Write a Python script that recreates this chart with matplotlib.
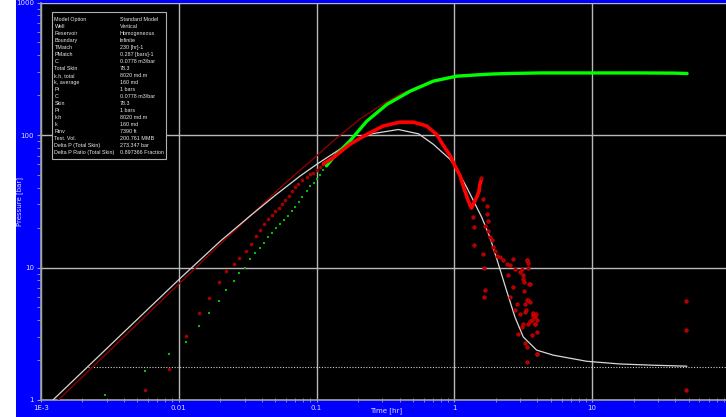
import matplotlib
matplotlib.use("Agg")
import matplotlib.pyplot as plt
from matplotlib import font_manager
from matplotlib.patches import Rectangle
from matplotlib.ticker import FixedLocator, FixedFormatter, LogLocator, NullFormatter

# ---------------- data ----------------
# pressure change data (green), sparse early points
gp_sparse_t = [0.00291, 0.00569, 0.00845, 0.01122, 0.01394, 0.01663, 0.01948, 0.02213, 0.02518, 0.02749,
               0.0302, 0.0330, 0.0358, 0.0388, 0.0417, 0.0444, 0.0474, 0.0507, 0.0542, 0.0583, 0.0620,
               0.0659, 0.0700, 0.0741, 0.0790, 0.0845, 0.0900, 0.0955, 0.100, 0.106, 0.112, 0.118, 0.125]
gp_sparse_p = [1.10, 1.65, 2.21, 2.73, 3.60, 4.51, 5.55, 6.72, 7.89, 9.06,
               9.9, 11.5, 12.8, 14.1, 15.3, 16.9, 18.3, 19.9, 21.4, 23.0, 24.6,
               26.7, 28.7, 31.0, 34.0, 37.5, 41.0, 43.8, 46.4, 50.0, 54.5, 58.5, 63.0]
# pressure change data (green), dense part
gp_dense_t = [0.118, 0.132, 0.1745, 0.231, 0.323, 0.477, 0.703, 0.85, 1.04, 1.37, 1.8, 2.39, 4.18, 10.0, 22.2, 40.0, 48.8]
gp_dense_p = [58.5, 67.5, 90.2, 127, 170, 214, 255, 266, 278, 283, 288, 291, 294, 294, 294, 293, 291]

# derivative data (red), sparse early points
dp_sparse_t = [0.00569, 0.00845, 0.01122, 0.01394, 0.01663, 0.01948, 0.02213, 0.02518, 0.02749, 0.0305,
               0.0333, 0.0362, 0.0388, 0.0415, 0.0444, 0.0472, 0.0502, 0.0531, 0.0561, 0.0593, 0.0634,
               0.0667, 0.0700, 0.0736, 0.0790, 0.0850, 0.0900, 0.0946, 0.100, 0.106, 0.112]
dp_sparse_p = [1.18, 1.71, 3.03, 4.56, 5.92, 7.76, 9.44, 10.7, 11.75, 13.3,
               15.1, 17.4, 19.2, 21.3, 23.2, 25.0, 26.5, 28.1, 30.1, 32.3, 34.8,
               37.5, 40.2, 42.6, 45.5, 48.5, 50.5, 52.1, 54.5, 57.5, 60.5]
# derivative data (red), dense part
dp_dense_t = [0.112, 0.132, 0.1745, 0.231, 0.305, 0.403, 0.503, 0.629, 0.743, 0.84, 0.93, 1.01, 1.10, 1.19, 1.26, 1.33,
              1.41, 1.466, 1.51, 1.53, 1.56]
dp_dense_p = [60.5, 67.5, 85.1, 101, 117, 125, 125, 117, 101, 82, 70, 58.5, 49.2, 37.9, 31.9, 28.1,
              31.9, 34.8, 37.9, 42.6, 45.1]
# derivative data (red), late scattered points
dp_scatter_t = [1.55, 1.358, 1.387, 1.387, 1.604, 1.733, 1.715, 1.762, 1.667, 1.762, 1.811, 1.866, 1.916, 1.622,
                1.972, 2.028, 2.143, 2.264, 2.394, 2.675, 2.531, 2.753, 3.350, 3.436, 1.648, 2.460,
                2.992, 3.162, 2.675, 3.538, 1.667, 1.648, 2.531, 2.831, 3.350, 3.538, 2.753, 2.992,
                3.252, 3.739, 3.846, 3.639, 3.436, 3.076, 2.909, 3.846, 3.954, 3.639, 3.252, 3.381,
                3.954, 3.350, 3.350, 3.436, 3.076, 3.131, 3.199, 3.491, 3.199, 3.436, 3.252, 3.311,
                3.739, 3.908, 3.698, 3.954, 3.538, 3.846, 3.162, 3.999, 47.6, 47.6, 47.6]
dp_scatter_p = [47.7, 23.9, 20.1, 14.8, 32.8, 29.3, 25.3, 22.6, 20.7, 19.0, 16.9, 16.0, 14.2, 12.7,
                13.4, 12.3, 11.9, 11.3, 10.7, 11.6, 10.4, 9.78, 11.3, 10.0, 9.95, 8.71,
                9.22, 8.22, 7.11, 7.54, 6.80, 5.98, 5.98, 5.33, 5.65, 5.48, 4.75, 4.48,
                4.61, 4.48, 4.23, 4.00, 3.77, 3.56, 3.17, 3.77, 3.26, 3.08, 2.67, 2.52,
                2.24, 1.94, 11.4, 10.8, 9.78, 8.71, 7.75, 7.45, 6.63, 5.65, 5.33, 4.75,
                4.53, 4.48, 4.28, 4.00, 3.95, 3.73, 3.77, 2.24, 5.55, 3.40, 1.20]

# model pressure (dark red line)
mp_t = [0.001335, 0.0209, 0.0573, 0.0759, 0.100, 0.1315, 0.2066, 0.300, 0.403, 0.550, 0.700, 1.01, 1.5, 2.5, 5.0, 48.8]
mp_p = [1.0, 15.7, 42.0, 54.3, 69.5, 90.0, 132, 170, 203, 233, 255, 280, 289, 293, 295, 296]

# model derivative (white line)
md_t = [0.00122, 0.010, 0.020, 0.0329, 0.050, 0.0759, 0.100, 0.1745, 0.250, 0.392, 0.550, 0.703, 0.929, 1.01, 1.23, 1.58,
        1.81, 2.08, 2.39, 2.75, 3.16, 3.95, 5.22, 9.12, 15.9, 27.8, 48.5]
md_p = [1.0, 8.1, 15.8, 24.5, 35.0, 49.0, 60.0, 87.5, 102, 110, 102, 85.1, 65.6, 58.5, 40.2, 23.9,
        16.9, 10.7, 6.7, 4.23, 2.99, 2.38, 2.18, 1.96, 1.87, 1.83, 1.80]

# dotted radial-flow level
dotted_level = 1.76
dotted_start = 0.0022

# axis ticks
x_ticks = [1e-3, 1e-2, 1e-1, 1, 10]
x_tick_labels = ["1E-3", "0.01", "0.1", "1", "10"]
y_ticks = [1, 10, 100, 1000]
y_tick_labels = ["1", "10", "100", "1000"]

# info box
info_keys = ["Model Option", "Well", "Reservoir", "Boundary", "TMatch", "PMatch", "C", "Total Skin",
             "k.h, total", "k, average", "Pi", "C", "Skin", "Pi", "k.h", "k", "Rinv", "Test. Vol.",
             "Delta P (Total Skin)", "Delta P Ratio (Total Skin)"]
info_vals = ["Standard Model", "Vertical", "Homogeneous", "Infinite", "230 [hr]-1", "0.287 [bars]-1",
             "0.0778 m3/bar", "78.3", "8020 md.m", "160 md", "1 bars", "0.0778 m3/bar", "78.3", "1 bars",
             "8020 md.m", "160 md", "7390 ft", "200.761 MMB", "273.347 bar", "0.897366 Fraction"]

# font choice for the info box
_names = {f.name for f in font_manager.fontManager.ttflist}
if "Liberation Sans Narrow" in _names:
    box_font, box_size = "Liberation Sans Narrow", 4.6
else:
    box_font, box_size = "Liberation Sans", 3.9

# ---------------- figure ----------------
W, H = 726, 417
fig = plt.figure(figsize=(W / 100, H / 100), dpi=100)
fig.patch.set_facecolor("white")
bg = Rectangle((16 / W, 0), 1 - 16 / W, 1, transform=fig.transFigure,
               facecolor="#0000ff", edgecolor="none", zorder=-10)
fig.patches.append(bg)

ax = fig.add_axes([41 / W, 17 / H, 688 / W, 397.5 / H])
ax.set_zorder(1)
ax.set_facecolor("black")
ax.set_xscale("log")
ax.set_yscale("log")
ax.set_xlim(1e-3, 10 ** (-3 + 688 / 137.8))
ax.set_ylim(1, 1000)

for s in ["top", "right"]:
    ax.spines[s].set_visible(False)
for s in ["left", "bottom"]:
    ax.spines[s].set_color("#a0a0a0")
    ax.spines[s].set_linewidth(1.2)

ax.xaxis.set_major_locator(FixedLocator(x_ticks))
ax.xaxis.set_major_formatter(FixedFormatter(x_tick_labels))
ax.yaxis.set_major_locator(FixedLocator(y_ticks))
ax.yaxis.set_major_formatter(FixedFormatter(y_tick_labels))
ax.xaxis.set_minor_locator(LogLocator(base=10, subs=range(2, 10)))
ax.yaxis.set_minor_locator(LogLocator(base=10, subs=range(2, 10)))
ax.xaxis.set_minor_formatter(NullFormatter())
ax.yaxis.set_minor_formatter(NullFormatter())
ax.tick_params(which="both", colors="#a0a0a0", labelcolor="#e0e0ff", labelsize=5, pad=2)
ax.tick_params(axis="x", which="both", direction="inout", length=3)
ax.tick_params(axis="y", which="both", direction="out", length=3)

ax.grid(True, which="major", color="#b8b8b8", linewidth=1.0)
ax.set_axisbelow(True)

ax.set_xlabel("Time [hr]", color="#e0e0ff", fontsize=5)
ax.xaxis.set_label_coords((386 - 41) / 688, -7 / 397.5)
ax.set_ylabel("Pressure [bar]", color="#e0e0ff", fontsize=5)
ax.yaxis.set_label_coords((23 - 41) / 688, 0.5)

# dotted level line
ax.plot([dotted_start, 200], [dotted_level, dotted_level], color="#d0d0d0", lw=0.8,
        linestyle=(0, (1, 1.5)), zorder=2)

# model lines
ax.plot(mp_t, mp_p, color="#8a0000", lw=1.0, zorder=3)
ax.plot(md_t, md_p, color="#d8d8d8", lw=0.9, zorder=3)

# green data
ax.plot(gp_sparse_t, gp_sparse_p, linestyle="none", marker="s", ms=1.6, color="#00c000", mew=0, zorder=4)
ax.plot(gp_dense_t, gp_dense_p, color="#00ff00", lw=2.4, solid_capstyle="round", zorder=4)

# red derivative data
ax.plot(dp_sparse_t, dp_sparse_p, linestyle="none", marker="o", ms=2.6, color="#a80000", mew=0, zorder=5)
ax.plot(dp_dense_t, dp_dense_p, color="#ff0000", lw=2.6, solid_capstyle="round", zorder=5)
ax.plot(dp_scatter_t, dp_scatter_p, linestyle="none", marker="o", ms=2.4, mfc="#a00000",
        mec="#e00000", mew=0.6, zorder=5)

# info box
box = Rectangle((10.7 / 688, (400 - 159) / 397.5), 114 / 688, (159 - 12.3) / 397.5,
                transform=ax.transAxes, facecolor="black", edgecolor="#b0b0b0", lw=0.8, zorder=6)
ax.add_patch(box)
row0 = (400 - 19.5) / 397.5
dy = 7.0 / 397.5
for i, (k, v) in enumerate(zip(info_keys, info_vals)):
    y = row0 - i * dy
    ax.text(13.5 / 688, y, k, transform=ax.transAxes, color="#e8e8e8", fontsize=box_size,
            family=box_font, va="center", ha="left", zorder=7)
    ax.text(78.5 / 688, y, v, transform=ax.transAxes, color="#e8e8e8", fontsize=box_size,
            family=box_font, va="center", ha="left", zorder=7)

fig.savefig("out.png", dpi=100, facecolor=fig.get_facecolor())
